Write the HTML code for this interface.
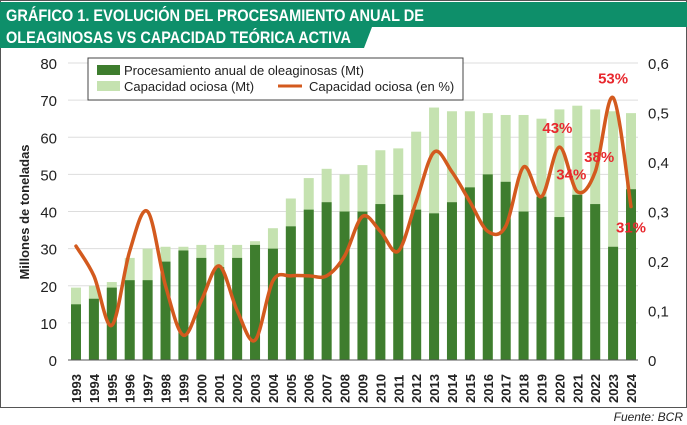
<!DOCTYPE html>
<html><head><meta charset="utf-8">
<style>
body{margin:0;background:#fff;}
svg{display:block;font-family:"Liberation Sans",sans-serif;}
</style></head>
<body>
<svg id="c" width="687" height="425" viewBox="0 0 687 425">
<rect x="0.5" y="0.5" width="686" height="407" fill="#fff" stroke="#555"/>
<path d="M0 2 H687 V27 H372 L364 48 H0 Z" fill="#0e8f6a"/>
<text x="6" y="21" fill="#fff" font-size="17" font-weight="bold" textLength="418" lengthAdjust="spacingAndGlyphs">GRÁFICO 1. EVOLUCIÓN DEL PROCESAMIENTO ANUAL DE</text>
<text x="6" y="43" fill="#fff" font-size="17" font-weight="bold" textLength="345" lengthAdjust="spacingAndGlyphs">OLEAGINOSAS VS CAPACIDAD TEÓRICA ACTIVA</text>
<g id="grid"></g>
<g id="bars"></g>
<path id="line" fill="none" stroke="#d35a1e" stroke-width="3.5" stroke-linecap="round"/>
<g id="axes"></g>
<g id="labels"></g>
<g>
<rect x="88" y="58" width="375" height="42" fill="#fff" stroke="#444"/>
<rect x="97" y="65" width="23" height="10" fill="#3e7d2e"/>
<text x="124" y="75" font-size="13" fill="#222">Procesamiento anual de oleaginosas (Mt)</text>
<rect x="97" y="81" width="23" height="10" fill="#c5e2b0"/>
<text x="124" y="91" font-size="13" fill="#222">Capacidad ociosa (Mt)</text>
<line x1="278" y1="86" x2="302" y2="86" stroke="#d35a1e" stroke-width="3"/>
<text x="309" y="91" font-size="13" fill="#222">Capacidad ociosa (en %)</text>
</g>
<text transform="translate(29,212) rotate(-90)" text-anchor="middle" font-size="13" font-weight="bold" fill="#222">Millones de toneladas</text>
<text x="683" y="421" text-anchor="end" font-size="12" font-style="italic" fill="#222">Fuente: BCR</text>
</svg>
<script>
const years=[1993,1994,1995,1996,1997,1998,1999,2000,2001,2002,2003,2004,2005,2006,2007,2008,2009,2010,2011,2012,2013,2014,2015,2016,2017,2018,2019,2020,2021,2022,2023,2024];
const processing=[15,16.5,19.5,21.5,21.5,26.5,29.5,27.5,25,27.5,31,30,36,40.5,42.5,40,40,42,44.5,40.5,39.5,42.5,46.5,50,48,40,44,38.5,44.5,42,30.5,46];
const capacity=[19.5,20,21,27.5,30,30.5,30.5,31,31,31,32,35.5,43.5,49,51.5,50,52.5,56.5,57,61.5,68,67,67,66.5,66,66,65,67.5,68.5,67.5,67,66.5];
const idlePct=[0.23,0.17,0.07,0.22,0.30,0.15,0.05,0.12,0.19,0.10,0.04,0.16,0.17,0.17,0.17,0.21,0.29,0.26,0.22,0.32,0.42,0.38,0.32,0.26,0.27,0.39,0.33,0.43,0.34,0.38,0.53,0.31];
const leftTicks=[0,10,20,30,40,50,60,70,80];
const rightTicks=["0","0,1","0,2","0,3","0,4","0,5","0,6"];
const pctLabels=[{i:27,t:"43%",dx:-2,dy:-14},{i:28,t:"34%",dx:-6,dy:-12},{i:29,t:"38%",dx:4,dy:-10},{i:30,t:"53%",dx:0,dy:-14},{i:31,t:"31%",dx:0,dy:26}];
const NS="http://www.w3.org/2000/svg";
const x0=76,dxp=(631-76)/31,yb=360,yt=63;
const xs=i=>x0+i*dxp;
const yL=v=>yb-(v/80)*(yb-yt);
const yR=v=>yb-(v/0.6)*(yb-yt);
function mk(tag,attrs,parent){const e=document.createElementNS(NS,tag);for(const k in attrs)e.setAttribute(k,attrs[k]);document.getElementById(parent).appendChild(e);return e;}
leftTicks.forEach(v=>{
 if(v>0){const g=mk('line',{x1:68,x2:638,y1:yL(v),y2:yL(v),stroke:'#ddd'},'grid');
 
 }
 const t=mk('text',{x:57,y:yL(v)+6,'text-anchor':'end','font-size':15,fill:'#222'},'axes');t.textContent=v;
 
 
});
rightTicks.forEach((s,i)=>{
 const t=mk('text',{x:648,y:yR(i/10)+6,'font-size':15,fill:'#222'},'axes');t.textContent=s;
 
 
});
const ax=mk('line',{x1:68,x2:638,y1:yb,y2:yb,stroke:'#555'},'axes');


years.forEach((y,i)=>{
 const x=xs(i),w=10;
 const b2=mk('rect',{x:x-w/2,y:yL(capacity[i]),width:w,height:yb-yL(capacity[i]),fill:'#c5e2b0'},'bars');
 
 
 const b1=mk('rect',{x:x-w/2,y:yL(processing[i]),width:w,height:yb-yL(processing[i]),fill:'#3e7d2e'},'bars');
 
 
 const t=mk('text',{transform:`translate(${x+5},403) rotate(-90)`,'font-size':13,'font-weight':'bold',fill:'#222'},'axes');t.textContent=y;
 
 
});
const P=idlePct.map((v,i)=>[xs(i),yR(v)]);
let d=`M${P[0][0]},${P[0][1]}`;
for(let i=0;i<P.length-1;i++){
 const p0=P[Math.max(i-1,0)],p1=P[i],p2=P[i+1],p3=P[Math.min(i+2,P.length-1)];
 d+=` C${p1[0]+(p2[0]-p0[0])/6},${p1[1]+(p2[1]-p0[1])/6} ${p2[0]-(p3[0]-p1[0])/6},${p2[1]-(p3[1]-p1[1])/6} ${p2[0]},${p2[1]}`;
}
document.getElementById('line').setAttribute('d',d);
pctLabels.forEach(l=>{
 const t=mk('text',{x:xs(l.i)+l.dx,y:yR(idlePct[l.i])+l.dy,'text-anchor':'middle','font-size':15,'font-weight':'bold',fill:'#e8282e'},'labels');t.textContent=l.t;
 
 
});
</script>
</body></html>
